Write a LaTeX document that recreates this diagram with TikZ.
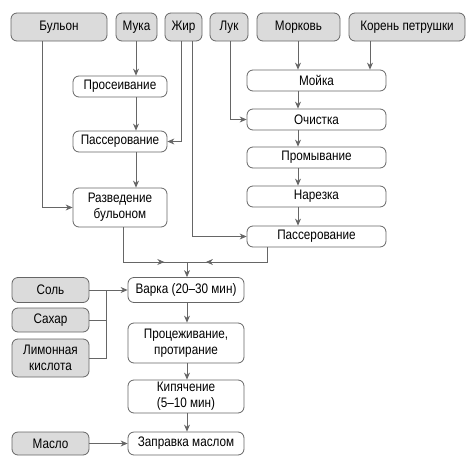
\documentclass[tikz,border=0pt]{standalone}
\usepackage{fontspec}
\setmainfont{Liberation Sans}[FakeStretch=0.85]
\usetikzlibrary{arrows.meta,decorations.markings}

\definecolor{linegray}{gray}{0.4}
\definecolor{fillgray}{gray}{0.86}

\begin{document}
\begin{tikzpicture}[x=1pt,y=-1pt,
    every node/.style={draw=linegray,thick,rounded corners=6pt,align=center,
      font=\fontsize{13.8}{16}\selectfont,inner sep=1pt},
    ingr/.style={fill=fillgray,minimum height=28pt},
    proc/.style={fill=white},
    tip/.style={-{Stealth[length=7pt,width=6pt]}},
    midtip/.style={postaction={decorate},decoration={markings,
      mark=at position #1 with {\arrow{Stealth[length=7pt,width=6pt]}}}}]
    \useasboundingbox (0,0) rectangle (474,461);

    % inputs
    \node[ingr,minimum width=96pt] (bul) at (59,27) {Бульон};
    \node[ingr,minimum width=41pt] (muk) at (136.5,27) {Мука};
    \node[ingr,minimum width=37pt] (zhi) at (183.5,27) {Жир};
    \node[ingr,minimum width=38pt] (luk) at (229,27) {Лук};
    \node[ingr,minimum width=83pt] (mor) at (298.5,27) {Морковь};
    \node[ingr,minimum width=116pt] (kor) at (407,27) {Корень петрушки};

    % left column
    \node[proc,minimum width=94pt,minimum height=21pt] (pro) at (120,86.5) {Просеивание};
    \node[proc,minimum width=94pt,minimum height=21pt] (pa1) at (120,141.5) {Пассерование};
    \node[proc,minimum width=94pt,minimum height=39pt] (raz) at (120,207.5) {Разведение\\бульоном};

    % right column
    \node[proc,minimum width=139pt,minimum height=21pt] (moi) at (316.5,80.5) {Мойка};
    \node[proc,minimum width=139pt,minimum height=21pt] (och) at (316.5,119.5) {Очистка};
    \node[proc,minimum width=139pt,minimum height=21pt] (prm) at (316.5,157.5) {Промывание};
    \node[proc,minimum width=139pt,minimum height=21pt] (nar) at (316.5,196.5) {Нарезка};
    \node[proc,minimum width=139pt,minimum height=21pt] (pa2) at (316.5,236.5) {Пассерование};

    % cooking
    \node[proc,minimum width=116pt,minimum height=25pt] (var) at (186,290) {Варка (20–30 мин)};
    \node[proc,minimum width=116pt,minimum height=40pt] (prc) at (186,343) {Процеживание,\\протирание};
    \node[proc,minimum width=116pt,minimum height=33pt] (kip) at (186,396.5) {Кипячение\\(5–10 мин)};
    \node[proc,minimum width=116pt,minimum height=23pt] (zap) at (186,443.5) {Заправка маслом};

    \node[ingr,minimum width=77pt,minimum height=25pt] (sol) at (50.5,290) {Соль};
    \node[ingr,minimum width=77pt,minimum height=24pt] (sah) at (50.5,320) {Сахар};
    \node[ingr,minimum width=77pt,minimum height=38pt] (lim) at (50.5,358) {Лимонная\\кислота};
    \node[ingr,minimum width=77pt,minimum height=23pt] (mas) at (50.5,443.5) {Масло};

    \coordinate (m) at (187,262);
    \coordinate (c) at (106,290);

    \begin{scope}[draw=linegray,thick]
    \path[tip] (muk.south -| 136,0) edge (pro.north -| 136,0);
    \path[tip] (pro.south -| 136,0) edge (pa1.north -| 136,0);
    \path[tip] (pa1.south -| 136,0) edge (raz.north -| 136,0);
    \draw[tip] (bul.south -| 42,0) |- (raz.west);
    \draw[tip] (zhi.south -| 181,0) |- (pa1.east);
    \draw[tip] (zhi.south -| 192,0) |- (pa2.west);
    \draw[tip] (luk.south -| 230,0) |- (och.west);

    \path[tip] (mor.south -| 298,0) edge (moi.north -| 298,0);
    \path[tip] (kor.south -| 370,0) edge (moi.north -| 370,0);
    \path[tip] (moi.south -| 298,0) edge (och.north -| 298,0);
    \path[tip] (och.south -| 298,0) edge (prm.north -| 298,0);
    \path[tip] (prm.south -| 298,0) edge (nar.north -| 298,0);
    \path[tip] (nar.south -| 298,0) edge (pa2.north -| 298,0);

    \draw[midtip=0.77] (raz.south -| 123,0) |- (m);
    \draw[midtip=0.8] (pa2.south -| 267,0) |- (m);
    \draw[tip] (m) -- (m |- var.north);

    \draw (sol.east) -- (c);
    \draw (sah.east) -| (c);
    \draw (lim.east) -| (c);
    \draw[tip] (c) -- (var.west);

    \path[tip] (var.south -| 187,0) edge (prc.north -| 187,0);
    \path[tip] (prc.south -| 187,0) edge (kip.north -| 187,0);
    \path[tip] (kip.south -| 187,0) edge (zap.north -| 187,0);
    \draw[tip] (mas.east) -- (zap.west);
    \end{scope}
  \end{tikzpicture}
\end{document}
